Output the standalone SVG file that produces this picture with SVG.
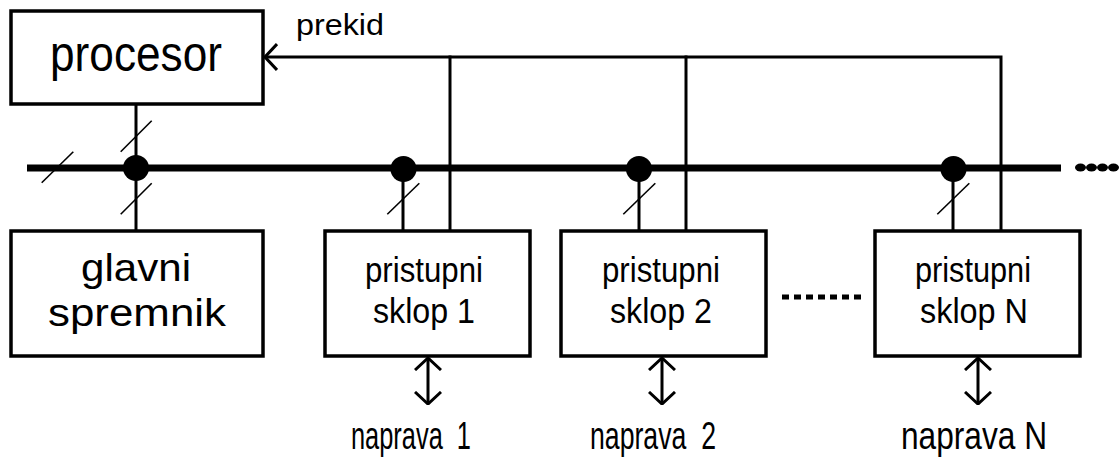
<svg xmlns="http://www.w3.org/2000/svg" width="1119" height="459" viewBox="0 0 1119 459">
<style>
.box{fill:#fff;stroke:#000;stroke-width:3.5}
.ln{fill:none;stroke:#000;stroke-width:3;stroke-linecap:square}
.bus{fill:none;stroke:#000;stroke-width:7}
.sl{fill:none;stroke:#000;stroke-width:1.6}
.arr{fill:none;stroke:#000;stroke-width:3}
.t{font-family:"Liberation Sans",Arial,sans-serif;fill:#000;text-anchor:middle}
.big{font-size:50px}
.mem{font-size:39px}
.mid{font-size:35px}
.lab{font-size:38px}
</style>
<defs>
<marker id="chev" viewBox="0 0 14 28" refX="13" refY="14" markerWidth="14" markerHeight="28" markerUnits="userSpaceOnUse" orient="auto-start-reverse">
<path d="M1,1 L13,14 L1,27" fill="none" stroke="#000" stroke-width="3"/>
</marker>
</defs>
<g id="connectors">
<line class="bus" x1="27" y1="168" x2="1061" y2="168"/>
<g fill="#000">
<ellipse cx="1080.5" cy="167.5" rx="5.5" ry="4"/>
<ellipse cx="1091.5" cy="167.5" rx="5.5" ry="4"/>
<ellipse cx="1102.5" cy="167.5" rx="5.5" ry="4"/>
<ellipse cx="1113.5" cy="167.5" rx="5.5" ry="4"/>
</g>
<line class="sl" x1="41.7" y1="182.7" x2="73.3" y2="151.7"/>
<line class="ln" x1="136" y1="105" x2="136" y2="230"/>
<line class="sl" x1="120.7" y1="151.7" x2="151.7" y2="120.7"/>
<line class="sl" x1="120.7" y1="214.3" x2="151.7" y2="183.3"/>
<circle cx="136" cy="168" r="13"/>
<line class="ln" x1="403" y1="168" x2="403" y2="230"/>
<circle cx="403.5" cy="169" r="13"/>
<line class="sl" x1="387.3" y1="214.3" x2="419.3" y2="183.3"/>
<line class="ln" x1="639" y1="168" x2="639" y2="230"/>
<circle cx="639" cy="169" r="13"/>
<line class="sl" x1="623.3" y1="214.3" x2="655.3" y2="183.3"/>
<line class="ln" x1="953" y1="168" x2="953" y2="230"/>
<circle cx="953.5" cy="169" r="13"/>
<line class="sl" x1="937.3" y1="214.3" x2="969.3" y2="183.3"/>
<path class="arr" d="M1001,230 L1001,57 L265,57" marker-end="url(#chev)"/>
<line class="ln" x1="450" y1="57" x2="450" y2="230"/>
<line class="ln" x1="686" y1="57" x2="686" y2="230"/>
<line class="arr" x1="428" y1="358" x2="428" y2="404" marker-start="url(#chev)" marker-end="url(#chev)"/>
<line class="arr" x1="662" y1="358" x2="662" y2="404" marker-start="url(#chev)" marker-end="url(#chev)"/>
<line class="arr" x1="978" y1="358" x2="978" y2="404" marker-start="url(#chev)" marker-end="url(#chev)"/>
<line x1="782" y1="297" x2="862" y2="297" stroke="#000" stroke-width="5" stroke-dasharray="7 5" stroke-linecap="butt"/>
<text class="t" x="340" y="35" font-size="30" textLength="88" lengthAdjust="spacingAndGlyphs">prekid</text>
</g>
<g id="procesor">
<rect class="box" x="11" y="11" width="252" height="93"/>
<text class="t big" x="136" y="71" textLength="172" lengthAdjust="spacingAndGlyphs">procesor</text>
</g>
<g id="glavni-spremnik">
<rect class="box" x="11" y="231" width="252" height="125"/>
<text class="t mem" x="136" y="281" textLength="110" lengthAdjust="spacingAndGlyphs">glavni</text>
<text class="t mem" x="137" y="326" textLength="178" lengthAdjust="spacingAndGlyphs">spremnik</text>
</g>
<g id="sklop1">
<rect class="box" x="325" y="231" width="205" height="125"/>
<text class="t mid" x="424" y="282" textLength="118" lengthAdjust="spacingAndGlyphs">pristupni</text>
<text class="t mid" x="424" y="323" textLength="102" lengthAdjust="spacingAndGlyphs">sklop 1</text>
</g>
<g id="sklop2">
<rect class="box" x="561" y="231" width="205" height="125"/>
<text class="t mid" x="661" y="282" textLength="118" lengthAdjust="spacingAndGlyphs">pristupni</text>
<text class="t mid" x="661" y="323" textLength="102" lengthAdjust="spacingAndGlyphs">sklop 2</text>
</g>
<g id="sklopN">
<rect class="box" x="875" y="231" width="205" height="125"/>
<text class="t mid" x="973" y="282" textLength="116" lengthAdjust="spacingAndGlyphs">pristupni</text>
<text class="t mid" x="974" y="323" textLength="108" lengthAdjust="spacingAndGlyphs">sklop N</text>
</g>
<g id="naprava1"><text class="t lab" x="411" y="449" textLength="120" lengthAdjust="spacingAndGlyphs" xml:space="preserve">naprava  1</text></g>
<g id="naprava2"><text class="t lab" x="653" y="449" textLength="126" lengthAdjust="spacingAndGlyphs" xml:space="preserve">naprava  2</text></g>
<g id="napravaN"><text class="t lab" x="974" y="449" textLength="146" lengthAdjust="spacingAndGlyphs">naprava N</text></g>
</svg>
